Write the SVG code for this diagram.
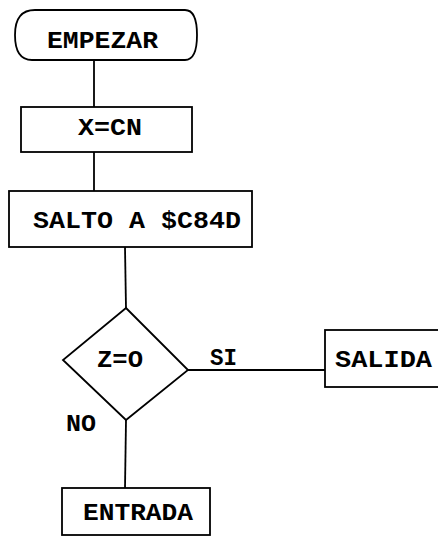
<svg xmlns="http://www.w3.org/2000/svg" width="438" height="537" viewBox="0 0 438 537">
<style>
.s{fill:none;stroke:#000;stroke-width:1.8}
.t{font-family:"Liberation Mono","DejaVu Sans Mono",monospace;font-weight:bold;font-size:23px;fill:#000}
</style>
<rect width="438" height="537" fill="#fff"/>
<g id="connectors" class="s">
<line x1="94" y1="60" x2="94" y2="107"/>
<line x1="94" y1="152" x2="94" y2="191"/>
<line x1="125" y1="247" x2="126" y2="308"/>
<line x1="188" y1="370" x2="325" y2="370"/>
<line x1="126" y1="420" x2="125" y2="488"/>
</g>
<g id="empezar">
<path class="s" d="M35,10 H185 Q197,10 197,35 Q197,60 185,60 H32 Q15,60 15,35 Q15,10 35,10 Z"/>
<text class="t" x="47" y="48" textLength="111" lengthAdjust="spacingAndGlyphs">EMPEZAR</text>
</g>
<g id="xcn">
<rect class="s" x="21" y="107" width="171" height="45"/>
<text class="t" x="78" y="135" textLength="64" lengthAdjust="spacingAndGlyphs">X=CN</text>
</g>
<g id="salto">
<rect class="s" x="9" y="191" width="243" height="56"/>
<text class="t" x="33" y="228" textLength="208" lengthAdjust="spacingAndGlyphs">SALTO A $C84D</text>
</g>
<g id="z0">
<polygon class="s" points="126,308 188,370 126,420 63,360"/>
<text class="t" x="97" y="367" textLength="46" lengthAdjust="spacingAndGlyphs">Z=O</text>
</g>
<g id="labels">
<text class="t" x="210" y="365" textLength="27" lengthAdjust="spacingAndGlyphs">SI</text>
<text class="t" x="66" y="431" textLength="30" lengthAdjust="spacingAndGlyphs">NO</text>
</g>
<g id="salida">
<rect class="s" x="325" y="330" width="120" height="57"/>
<text class="t" x="335" y="367" textLength="97" lengthAdjust="spacingAndGlyphs">SALIDA</text>
</g>
<g id="entrada">
<rect class="s" x="62" y="488" width="148" height="47"/>
<text class="t" x="83" y="520" textLength="110" lengthAdjust="spacingAndGlyphs">ENTRADA</text>
</g>
</svg>
